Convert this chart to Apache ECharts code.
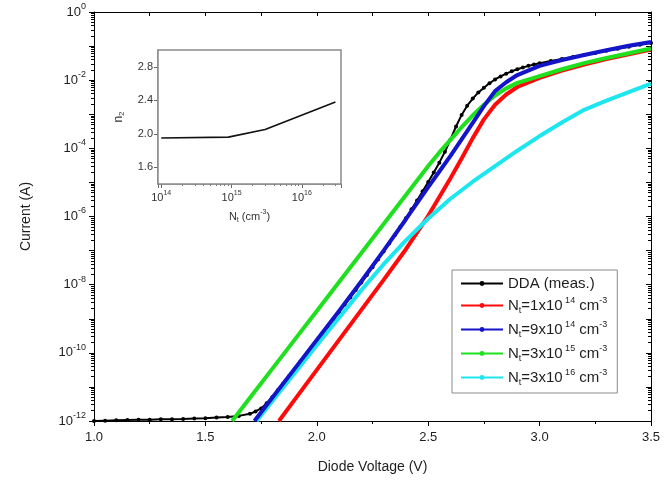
<!DOCTYPE html>
<html><head><meta charset="utf-8">
<script src="https://cdn.jsdelivr.net/npm/echarts@6.0.0/dist/echarts.min.js"></script>
<style>html,body{margin:0;padding:0;background:#fff}#c{width:666px;height:495px}</style>
</head><body><div id="c"></div>
<script>
// ---------- data (current given as log10 of amperes) ----------
const ddaV = [1.00,1.05,1.10,1.15,1.20,1.25,1.30,1.35,1.40,1.45,1.50,1.55,1.60,1.65,1.70,
  1.725,1.75,1.775,1.80,1.825,1.85,1.875,1.90,1.925,1.95,1.975,2.00,2.025,2.05,2.075,2.10,2.125,2.15,2.175,2.20,2.225,2.25,2.275,2.30,2.325,2.35,2.375,2.40,2.425,2.45,2.475,2.50,2.525,2.55,2.575,2.60,2.625,2.65,2.675,2.70,2.725,2.75,2.775,2.80,2.825,2.85,2.875,2.90,2.925,2.95,2.975,3.00,
  3.05,3.10,3.15,3.20,3.25,3.30,3.35,3.40,3.45,3.50];
const ddaLogI = [-12.00,-11.99,-11.98,-11.97,-11.965,-11.96,-11.95,-11.945,-11.94,-11.93,-11.92,-11.90,-11.88,-11.85,-11.79,
  -11.72,-11.63,-11.48,-11.30,-11.10,-10.90,-10.69,-10.48,-10.27,-10.06,-9.85,-9.64,-9.43,-9.22,-9.01,-8.80,-8.59,-8.38,-8.16,-7.94,-7.72,-7.49,-7.26,-7.03,-6.79,-6.55,-6.30,-6.05,-5.79,-5.53,-5.26,-4.99,-4.71,-4.42,-4.10,-3.74,-3.36,-3.02,-2.75,-2.54,-2.36,-2.22,-2.09,-1.98,-1.89,-1.81,-1.74,-1.68,-1.63,-1.58,-1.54,-1.50,
  -1.44,-1.38,-1.32,-1.26,-1.20,-1.14,-1.08,-1.02,-0.96,-0.91];

const redV = [1.83,1.90,2.00,2.10,2.20,2.30,2.40,2.50,2.60,2.65,2.70,2.75,2.80,2.85,2.90,3.00,3.10,3.20,3.30,3.40,3.50];
const redLogI = [-12,-11.38,-10.50,-9.62,-8.74,-7.86,-6.96,-5.98,-4.88,-4.30,-3.70,-3.15,-2.72,-2.42,-2.20,-1.93,-1.72,-1.54,-1.38,-1.24,-1.10];

const blueV = [1.72,1.80,1.90,2.00,2.10,2.20,2.30,2.40,2.50,2.55,2.60,2.65,2.70,2.75,2.80,2.85,2.90,3.00,3.10,3.20,3.30,3.40,3.50];
const blueLogI = [-12,-11.32,-10.47,-9.62,-8.77,-7.90,-7.00,-6.08,-5.14,-4.68,-4.22,-3.74,-3.25,-2.76,-2.32,-2.06,-1.85,-1.58,-1.41,-1.26,-1.12,-0.99,-0.88];

const greenV = [1.62,1.70,1.80,1.90,2.00,2.10,2.20,2.30,2.40,2.50,2.55,2.60,2.65,2.70,2.75,2.80,2.85,2.90,3.00,3.10,3.20,3.30,3.40,3.50];
const greenLogI = [-12,-11.32,-10.47,-9.62,-8.77,-7.92,-7.07,-6.22,-5.37,-4.52,-4.12,-3.75,-3.38,-3.03,-2.72,-2.45,-2.24,-2.08,-1.88,-1.68,-1.50,-1.35,-1.21,-1.07];

const cyanV = [1.73,1.80,1.90,2.00,2.10,2.20,2.30,2.40,2.50,2.60,2.70,2.80,2.90,3.00,3.10,3.20,3.30,3.40,3.50];
const cyanLogI = [-12,-11.42,-10.60,-9.78,-8.97,-8.16,-7.40,-6.70,-6.06,-5.48,-4.98,-4.52,-4.07,-3.64,-3.24,-2.87,-2.60,-2.35,-2.10];

// inset: ideality factor n2 versus trap density
const insetN = [1e14, 9e14, 3e15, 3e16];
const insetN2 = [1.95, 1.96, 2.05, 2.38];

// legend labels
const seriesNames = ['DDA (meas.)', 'Nt=1x10^14', 'Nt=9x10^14', 'Nt=3x10^15', 'Nt=3x10^16'];
const legendMant = ['1', '9', '3', '3'];
const legendExp = ['14', '14', '15', '16'];
const seriesColors = ['#000000', '#ff0a0a', '#1414c8', '#1ee01e', '#1ee6ee'];

// tick labels
const xTickLabels = ['1.0', '1.5', '2.0', '2.5', '3.0', '3.5'];
const yLabelExps = [0, -2, -4, -6, -8, -10, -12];
const insetYTicks = [1.6, 2.0, 2.4, 2.8];
const insetXExps = [14, 15, 16];

// ---------- chart ----------
const FONT = '"Liberation Sans", Arial, sans-serif';
const TXT = '#1e1e1e';
const pairs = (v, l) => v.map((x, i) => [x, Math.pow(10, l[i])]);

// tick positions (decoration only) on the log10 scale
const minorLogMain = [];
for (let n = -12; n < 0; n++) for (let k = 2; k < 10; k++) minorLogMain.push(n + Math.log10(k));
const insetXMin = 9e13, insetXMax = 3.6e16;
const minorLogInset = [];
for (let n = 13; n < 17; n++) for (let k = 2; k < 10; k++) {
  const v = n + Math.log10(k);
  if (v > Math.log10(insetXMin) && v < Math.log10(insetXMax)) minorLogInset.push(v);
}

const supRich = {
  b: {fontSize: 13, color: TXT, fontFamily: FONT, lineHeight: 20},
  s: {fontSize: 9, color: TXT, fontFamily: FONT, lineHeight: 10, verticalAlign: 'top'}
};
const insetRich = {
  b: {fontSize: 11, color: '#333', fontFamily: FONT, lineHeight: 16},
  s: {fontSize: 7, color: '#333', fontFamily: FONT, lineHeight: 8, verticalAlign: 'top'}
};

const chart = echarts.init(document.getElementById('c'), null, {renderer: 'canvas'});

const blackLine = {show: true, onZero: false, lineStyle: {color: '#000', width: 1}};
const grayLine = {show: true, onZero: false, lineStyle: {color: '#8a8a8a', width: 1.5}};
const noSplit = {show: false};
const hidden = {show: false, onZero: false};

function mainSeries(idx, v, l, extra) {
  return Object.assign({
    name: seriesNames[idx], type: 'line', xAxisIndex: 0, yAxisIndex: 0,
    data: pairs(v, l), showSymbol: false, symbol: 'circle', symbolSize: 5,
    lineStyle: {color: seriesColors[idx], width: 4}, itemStyle: {color: seriesColors[idx]},
    animation: false, silent: true, clip: true
  }, extra || {});
}

const option = {
  backgroundColor: '#fff',
  animation: false,
  textStyle: {fontFamily: FONT},
  grid: [
    {left: 94, right: 15, top: 12, bottom: 74, outerBoundsMode: 'none', containLabel: false},
    {left: 158, top: 50, width: 183, height: 134, outerBoundsMode: 'none', containLabel: false,
     show: true, borderColor: '#8a8a8a', borderWidth: 1.5, backgroundColor: '#fff', z: 5}
  ],
  legend: {
    orient: 'vertical', left: 452, top: 270,
    itemWidth: 42, itemHeight: 6, itemGap: 5,
    padding: [6, 10, 6, 8],
    backgroundColor: '#fff', borderColor: '#8a8a8a', borderWidth: 1, borderRadius: 0,
    data: seriesNames,
    selectedMode: false,
    textStyle: {fontSize: 15, color: TXT, fontFamily: FONT, rich: {
      n: {fontSize: 15, color: TXT, fontFamily: FONT, lineHeight: 19},
      sup: {fontSize: 9, color: TXT, fontFamily: FONT, lineHeight: 9, verticalAlign: 'top'},
      sub: {fontSize: 9, color: TXT, fontFamily: FONT, lineHeight: 9, verticalAlign: 'bottom'}
    }},
    formatter: function (name) {
      const i = seriesNames.indexOf(name);
      if (i === 0) return '{n|DDA (meas.)}';
      return '{n|N}{sub|t}{n|=' + legendMant[i - 1] + 'x10}{sup| ' + legendExp[i - 1] + '}{n| cm}{sup|-3}';
    }
  },
  xAxis: [
    {type: 'value', gridIndex: 0, position: 'bottom', min: 1, max: 3.5, interval: 0.5,
     axisLine: blackLine,
     axisTick: {show: true, inside: false, length: 5, lineStyle: {color: '#000'}},
     minorTick: {show: true, splitNumber: 2, length: 3, lineStyle: {color: '#000'}},
     splitLine: noSplit, minorSplitLine: noSplit,
     axisLabel: {margin: 10, fontSize: 13, color: TXT, fontFamily: FONT,
       formatter: v => xTickLabels[Math.round((v - 1) / 0.5)] || ''},
     name: 'Diode Voltage (V)', nameLocation: 'middle', nameGap: 39, nameMoveOverlap: false,
     nameTextStyle: {fontSize: 14, color: TXT, fontFamily: FONT}},
    {type: 'value', gridIndex: 0, position: 'top', min: 1, max: 3.5, interval: 0.25,
     axisLine: blackLine,
     axisTick: {show: true, inside: true, length: 4, lineStyle: {color: '#000'}},
     splitLine: noSplit, axisLabel: {show: false}},
    {type: 'log', logBase: 10, gridIndex: 1, position: 'bottom', min: insetXMin, max: insetXMax,
     axisLine: grayLine,
     axisTick: {show: true, inside: false, length: 4, lineStyle: {color: '#666'}},
     splitLine: noSplit,
     axisLabel: {margin: 6, rich: insetRich, formatter: function (v) {
        const e = Math.log10(v); const r = Math.round(e);
        if (Math.abs(e - r) > 1e-6 || insetXExps.indexOf(r) < 0) return '';
        return '{b|10}{s|' + r + '}';
     }},
     name: '{b|N}{t|t}{b| (cm}{s|-3}{b|)}', nameLocation: 'middle', nameGap: 25, nameMoveOverlap: false,
     nameTextStyle: {rich: {
        b: {fontSize: 11, color: '#333', fontFamily: FONT, lineHeight: 15},
        s: {fontSize: 7, color: '#333', fontFamily: FONT, lineHeight: 8, verticalAlign: 'top'},
        t: {fontSize: 7, color: '#333', fontFamily: FONT, lineHeight: 8, verticalAlign: 'bottom'}
     }}},
    {type: 'value', gridIndex: 1, position: 'bottom', min: Math.log10(insetXMin), max: Math.log10(insetXMax),
     axisLine: hidden,
     axisTick: {show: true, inside: false, length: 2, customValues: minorLogInset, lineStyle: {color: '#777'}},
     splitLine: noSplit, axisLabel: {show: false}}
  ],
  yAxis: [
    // data scale (log)
    {type: 'log', logBase: 10, gridIndex: 0, position: 'left', min: 1e-12, max: 1,
     axisLine: blackLine, axisTick: {show: false}, splitLine: noSplit, axisLabel: {show: false},
     name: 'Current (A)', nameLocation: 'middle', nameGap: 61, nameRotate: 90, nameMoveOverlap: false,
     nameTextStyle: {fontSize: 14, color: TXT, fontFamily: FONT}},
    // decade ticks + labels, expressed on the log10 of the same range
    {type: 'value', gridIndex: 0, position: 'left', min: -12, max: 0, interval: 1,
     axisLine: hidden,
     axisTick: {show: true, inside: false, length: 5, lineStyle: {color: '#000'}},
     splitLine: noSplit,
     axisLabel: {margin: 8, rich: supRich, formatter: function (v) {
        const e = Math.round(v);
        if (yLabelExps.indexOf(e) < 0) return '';
        return '{b|10}{s|' + e + '}';
     }}},
    {type: 'value', gridIndex: 0, position: 'left', min: -12, max: 0,
     axisLine: hidden,
     axisTick: {show: true, inside: false, length: 3, customValues: minorLogMain, lineStyle: {color: '#000'}},
     splitLine: noSplit, axisLabel: {show: false}},
    {type: 'value', gridIndex: 0, position: 'right', min: -12, max: 0, interval: 1,
     axisLine: blackLine,
     axisTick: {show: true, inside: true, length: 5, lineStyle: {color: '#000'}},
     splitLine: noSplit, axisLabel: {show: false}},
    {type: 'value', gridIndex: 0, position: 'right', min: -12, max: 0,
     axisLine: hidden,
     axisTick: {show: true, inside: true, length: 3, customValues: minorLogMain, lineStyle: {color: '#000'}},
     splitLine: noSplit, axisLabel: {show: false}},
    {type: 'value', gridIndex: 1, position: 'left', min: 1.4, max: 3.0,
     axisLine: grayLine,
     axisTick: {show: true, inside: false, length: 4, customValues: insetYTicks, lineStyle: {color: '#666'}},
     splitLine: noSplit,
     axisLabel: {margin: 5, fontSize: 11, color: '#333', fontFamily: FONT, customValues: insetYTicks,
       formatter: v => v.toFixed(1)},
     name: '{b|n}{t|2}', nameLocation: 'middle', nameGap: 32, nameRotate: 90, nameMoveOverlap: false,
     nameTextStyle: {rich: {
        b: {fontSize: 12, color: '#333', fontFamily: FONT, lineHeight: 15},
        t: {fontSize: 8, color: '#333', fontFamily: FONT, lineHeight: 8, verticalAlign: 'bottom'}
     }}}
  ],
  series: [
    mainSeries(0, ddaV, ddaLogI, {showSymbol: true, symbolSize: 4, lineStyle: {color: '#000', width: 2}, z: 2}),
    mainSeries(1, redV, redLogI, {z: 3}),
    mainSeries(3, greenV, greenLogI, {z: 4}),
    mainSeries(4, cyanV, cyanLogI, {z: 5}),
    mainSeries(2, blueV, blueLogI, {z: 6}),
    {type: 'line', xAxisIndex: 2, yAxisIndex: 5, z: 10,
     data: insetN.map((n, i) => [n, insetN2[i]]),
     showSymbol: false, lineStyle: {color: '#111', width: 1.6}, silent: true}
  ]
};
chart.setOption(option);
</script>
</body></html>
